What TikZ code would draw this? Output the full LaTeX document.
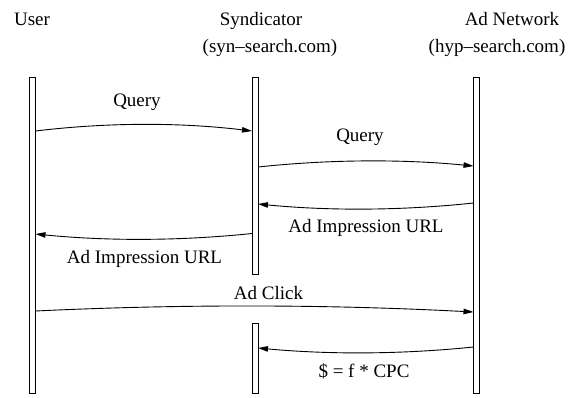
\documentclass[tikz,border=0pt]{standalone}
\usepackage{fontspec}
\setmainfont{Liberation Serif}
\usetikzlibrary{arrows.meta,calc}

% bowed message arrow: start, end, vertical offset of the control points
\newcommand{\msgarc}[3]{%
  \draw[msg] (#1) .. controls ($(#1)!1/3!(#2)+(0,#3)$) and ($(#1)!2/3!(#2)+(0,#3)$) .. (#2);}

\begin{document}
\begin{tikzpicture}[x=1pt,y=-1pt,
  font=\fontsize{19}{22}\selectfont,
  lifeline/.style={draw, line width=0.9pt, minimum width=6pt, inner sep=0pt, outer sep=0pt},
  msg/.style={line width=0.9pt, -{Triangle[length=10pt,width=5.5pt]}},
  lbl/.style={anchor=base, inner sep=0pt}]
\useasboundingbox (0,0) rectangle (570,397);

% participants
\node[lbl] (user)     at (32,25.5)   {User};
\node[lbl] (synd)     at (261,25.5)  {Syndicator};
\node[lbl] (syndurl)  at (270,52.5)  {(syn--search.com)};
\node[lbl] (adnet)    at (512,25.5)  {Ad Network};
\node[lbl] (adneturl) at (497,52.5)  {(hyp--search.com)};

% lifelines
\node[lifeline, minimum height=316pt] (ubar)  at (32.5,235.5) {};
\node[lifeline, minimum height=197pt] (sbar)  at (255,176)    {};
\node[lifeline, minimum height=70pt]  (sbarb) at (255,358.5)  {};
\node[lifeline, minimum height=316pt] (abar)  at (476.5,235.5) {};

% message end points
\coordinate (q1s) at (ubar.east |- 0,131);
\coordinate (q1e) at (sbar.west |- 0,131);
\coordinate (q2s) at (sbar.east |- 0,167);
\coordinate (q2e) at (abar.west |- 0,166);
\coordinate (i1s) at (abar.west |- 0,203);
\coordinate (i1e) at (sbar.east |- 0,204);
\coordinate (i2s) at (sbar.west |- 0,233.5);
\coordinate (i2e) at (ubar.east |- 0,234);
\coordinate (cks) at (ubar.east |- 0,311);
\coordinate (cke) at (abar.west |- 0,312);
\coordinate (pys) at (abar.west |- 0,347);
\coordinate (pye) at (sbarb.east |- 0,348);

% messages
\msgarc{q1s}{q1e}{-8.7}
\msgarc{q2s}{q2e}{-7.3}
\msgarc{i1s}{i1e}{7.3}
\msgarc{i2s}{i2e}{7.3}
\msgarc{cks}{cke}{-7.3}
\msgarc{pys}{pye}{7}

% message labels
\node[lbl] (q1l) at (137,106)     {Query};
\node[lbl] (q2l) at (360,141.5)   {Query};
\node[lbl] (i1l) at (366,232.6)   {Ad Impression URL};
\node[lbl] (i2l) at (144.5,263.3) {Ad Impression URL};
\node[lbl] (ckl) at (268.5,299.3) {Ad Click};
\node[lbl] (pyl) at (364,377)     {\$ = f * CPC};
\end{tikzpicture}
\end{document}
